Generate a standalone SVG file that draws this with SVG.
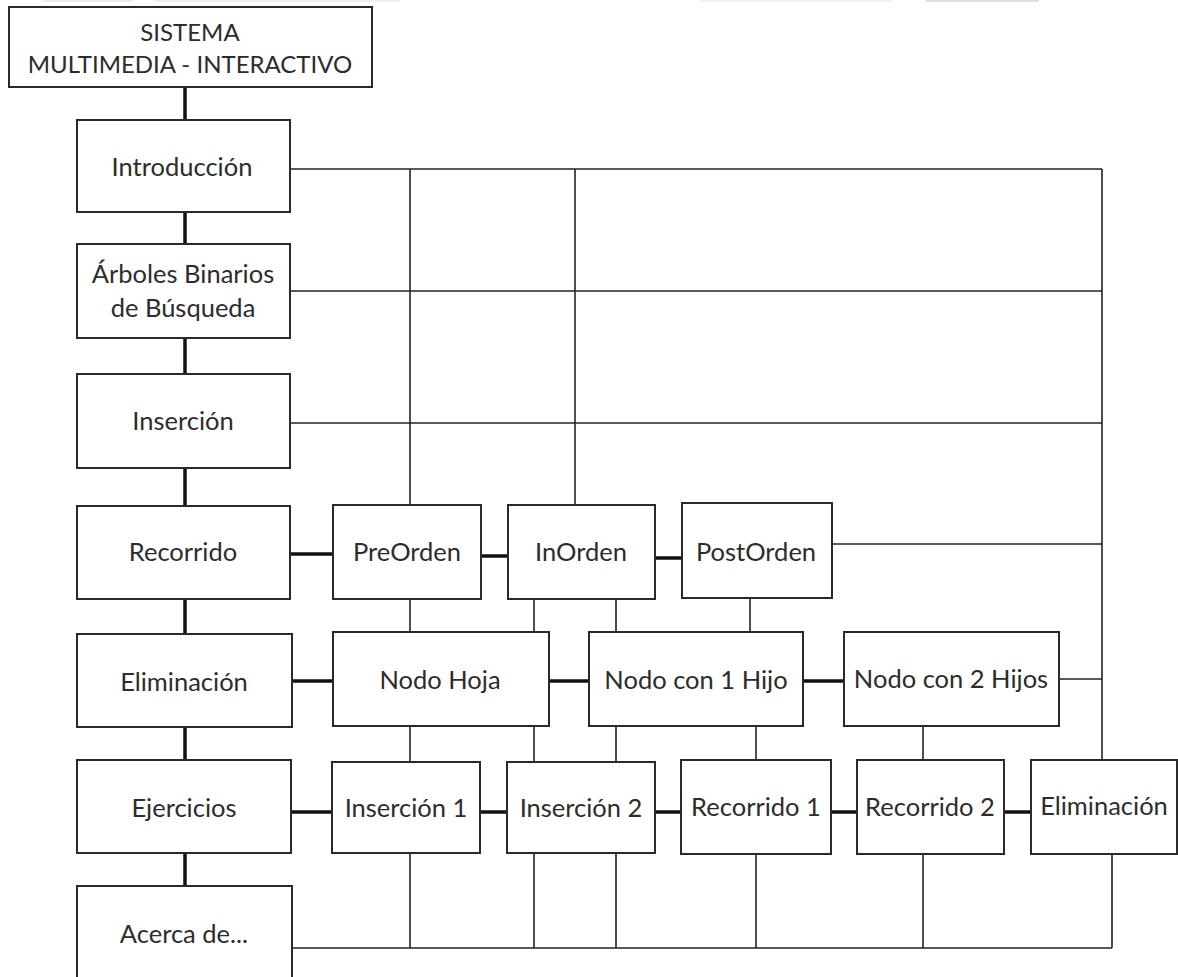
<svg xmlns="http://www.w3.org/2000/svg" width="1178" height="977" viewBox="0 0 1178 977">
  <style>
    .box { fill: #ffffff; stroke: #2a2a2a; stroke-width: 2; }
    .lbl { font-family: Lato, "Open Sans", "Liberation Sans", sans-serif; font-size: 25.5px; fill: #2c2c2c; text-anchor: middle; }
    .caps { font-size: 24px; }
    .thick { stroke: #111111; stroke-width: 3.5; fill: none; }
    .thin { stroke: #222222; stroke-width: 1.6; fill: none; }
  </style>
  <rect width="1178" height="977" fill="#ffffff"/>
  <!-- faint strips along the top edge -->
  <rect x="43" y="0" width="89" height="2" fill="#ececf0"/>
  <rect x="155" y="0" width="245" height="2" fill="#f0f0f2"/>
  <rect x="700" y="0" width="192" height="2" fill="#f2f2f2"/>
  <rect x="926" y="0" width="113" height="2" fill="#dedde6"/>

  <g id="connectors">
    <!-- main column -->
    <line class="thick" x1="185" y1="87" x2="185" y2="886"/>
    <!-- thick row links -->
    <line class="thick" x1="290" y1="554" x2="333" y2="554"/>
    <line class="thick" x1="481" y1="556" x2="508" y2="556"/>
    <line class="thick" x1="655" y1="558" x2="682" y2="558"/>
    <line class="thick" x1="292" y1="681" x2="333" y2="681"/>
    <line class="thick" x1="549" y1="681" x2="589" y2="681"/>
    <line class="thick" x1="803" y1="681" x2="844" y2="681"/>
    <line class="thick" x1="291" y1="812" x2="332" y2="812"/>
    <line class="thick" x1="480" y1="812" x2="507" y2="812"/>
    <line class="thick" x1="655" y1="812" x2="681" y2="812"/>
    <line class="thick" x1="831" y1="812" x2="857" y2="812"/>
    <line class="thick" x1="1004" y1="812" x2="1031" y2="812"/>
    <!-- horizontal links to the right bus -->
    <line class="thin" x1="290" y1="169" x2="1102" y2="169"/>
    <line class="thin" x1="290" y1="291" x2="1102" y2="291"/>
    <line class="thin" x1="290" y1="423" x2="1102" y2="423"/>
    <line class="thin" x1="832" y1="544" x2="1102" y2="544"/>
    <line class="thin" x1="1058" y1="679" x2="1102" y2="679"/>
    <line class="thin" x1="1102" y1="169" x2="1102" y2="760"/>
    <!-- drops from Introducción -->
    <line class="thin" x1="410" y1="169" x2="410" y2="505"/>
    <line class="thin" x1="575" y1="169" x2="575" y2="505"/>
    <!-- traversal row to deletion row -->
    <line class="thin" x1="410" y1="599" x2="410" y2="632"/>
    <line class="thin" x1="534" y1="599" x2="534" y2="632"/>
    <line class="thin" x1="616" y1="599" x2="616" y2="632"/>
    <line class="thin" x1="750" y1="598" x2="750" y2="632"/>
    <!-- deletion row to exercise row -->
    <line class="thin" x1="410" y1="726" x2="410" y2="762"/>
    <line class="thin" x1="534" y1="726" x2="534" y2="762"/>
    <line class="thin" x1="616" y1="726" x2="616" y2="762"/>
    <line class="thin" x1="756" y1="726" x2="756" y2="760"/>
    <line class="thin" x1="923" y1="726" x2="923" y2="760"/>
    <!-- exercise row to bottom bus -->
    <line class="thin" x1="410" y1="853" x2="410" y2="948"/>
    <line class="thin" x1="534" y1="853" x2="534" y2="948"/>
    <line class="thin" x1="616" y1="853" x2="616" y2="948"/>
    <line class="thin" x1="756" y1="854" x2="756" y2="948"/>
    <line class="thin" x1="923" y1="854" x2="923" y2="948"/>
    <line class="thin" x1="1112" y1="854" x2="1112" y2="948"/>
    <line class="thin" x1="292" y1="948" x2="1112" y2="948"/>
  </g>

  <g id="sistema">
    <rect class="box" x="9" y="7" width="363" height="80"/>
    <text class="lbl caps" x="190" y="41">SISTEMA</text>
    <text class="lbl caps" x="190" y="73">MULTIMEDIA - INTERACTIVO</text>
  </g>
  <g id="introduccion">
    <rect class="box" x="77" y="120" width="213" height="92"/>
    <text class="lbl" x="182" y="176">Introducción</text>
  </g>
  <g id="arboles">
    <rect class="box" x="77" y="244" width="213" height="94"/>
    <text class="lbl" x="183" y="283">Árboles Binarios</text>
    <text class="lbl" x="183" y="317">de Búsqueda</text>
  </g>
  <g id="insercion">
    <rect class="box" x="77" y="374" width="213" height="94"/>
    <text class="lbl" x="183" y="430">Inserción</text>
  </g>
  <g id="recorrido">
    <rect class="box" x="77" y="506" width="213" height="93"/>
    <text class="lbl" x="183" y="561">Recorrido</text>
  </g>
  <g id="eliminacion">
    <rect class="box" x="77" y="634" width="215" height="93"/>
    <text class="lbl" x="184" y="691">Eliminación</text>
  </g>
  <g id="ejercicios">
    <rect class="box" x="77" y="760" width="214" height="93"/>
    <text class="lbl" x="184" y="817">Ejercicios</text>
  </g>
  <g id="acerca">
    <rect class="box" x="77" y="886" width="215" height="100"/>
    <text class="lbl" x="184" y="943">Acerca de...</text>
  </g>

  <g id="preorden">
    <rect class="box" x="333" y="505" width="148" height="94"/>
    <text class="lbl" x="407" y="561">PreOrden</text>
  </g>
  <g id="inorden">
    <rect class="box" x="508" y="505" width="147" height="94"/>
    <text class="lbl" x="581" y="561">InOrden</text>
  </g>
  <g id="postorden">
    <rect class="box" x="682" y="503" width="150" height="95"/>
    <text class="lbl" x="756" y="561">PostOrden</text>
  </g>

  <g id="nodo-hoja">
    <rect class="box" x="333" y="632" width="216" height="94"/>
    <text class="lbl" x="440" y="689">Nodo Hoja</text>
  </g>
  <g id="nodo-1-hijo">
    <rect class="box" x="589" y="632" width="214" height="94"/>
    <text class="lbl" x="696" y="689">Nodo con 1 Hijo</text>
  </g>
  <g id="nodo-2-hijos">
    <rect class="box" x="844" y="632" width="215" height="94"/>
    <text class="lbl" x="951" y="688">Nodo con 2 Hijos</text>
  </g>

  <g id="insercion-1">
    <rect class="box" x="332" y="762" width="148" height="91"/>
    <text class="lbl" x="406" y="817">Inserción 1</text>
  </g>
  <g id="insercion-2">
    <rect class="box" x="507" y="762" width="148" height="91"/>
    <text class="lbl" x="581" y="817">Inserción 2</text>
  </g>
  <g id="recorrido-1">
    <rect class="box" x="681" y="760" width="150" height="94"/>
    <text class="lbl" x="756" y="816">Recorrido 1</text>
  </g>
  <g id="recorrido-2">
    <rect class="box" x="857" y="760" width="147" height="94"/>
    <text class="lbl" x="930" y="816">Recorrido 2</text>
  </g>
  <g id="eliminacion-ej">
    <rect class="box" x="1031" y="760" width="146" height="94"/>
    <text class="lbl" x="1104" y="815">Eliminación</text>
  </g>
</svg>
